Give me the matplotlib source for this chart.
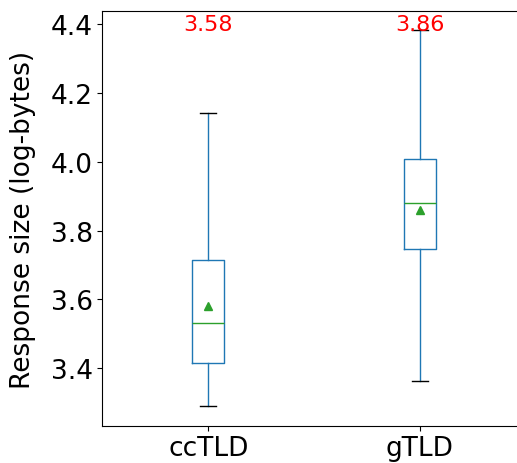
import matplotlib
matplotlib.use("Agg")
import matplotlib.pyplot as plt

# Summary statistics of response size (log10 bytes) per TLD group
labels = ["ccTLD", "gTLD"]
means = [3.58, 3.86]
medians = [3.530, 3.880]
q1 = [3.415, 3.747]
q3 = [3.715, 4.007]
whislo = [3.291, 3.362]
whishi = [4.141, 4.383]

stats = [
    dict(label=l, mean=m, med=md, q1=a, q3=b, whislo=lo, whishi=hi, fliers=[])
    for l, m, md, a, b, lo, hi in zip(labels, means, medians, q1, q3, whislo, whishi)
]

fig = plt.figure(figsize=(5.17, 4.64), dpi=100)
ax = fig.add_axes([0.198, 0.0804, 0.819, 0.893])

ax.bxp(
    stats,
    positions=[1, 2],
    widths=0.15,
    showmeans=True,
    boxprops=dict(color="#1f77b4"),
    whiskerprops=dict(color="#1f77b4"),
    capprops=dict(color="black"),
    medianprops=dict(color="#2ca02c"),
    meanprops=dict(marker="^", markerfacecolor="#2ca02c", markeredgecolor="#2ca02c"),
)

ax.set_xlim(0.5, 2.5)
ax.set_ylim(3.233, 4.437)
ax.set_yticks([3.4, 3.6, 3.8, 4.0, 4.2, 4.4])
ax.tick_params(labelsize=19)
ax.set_ylabel("Response size (log-bytes)", fontsize=19)
ax.yaxis.set_label_coords(-0.157, 0.5)

for pos, m in zip([1, 2], means):
    ax.text(pos, 4.4, f"{m:.2f}", color="red", fontsize=16, ha="center", va="center")

fig.savefig("out.png", dpi=100)
